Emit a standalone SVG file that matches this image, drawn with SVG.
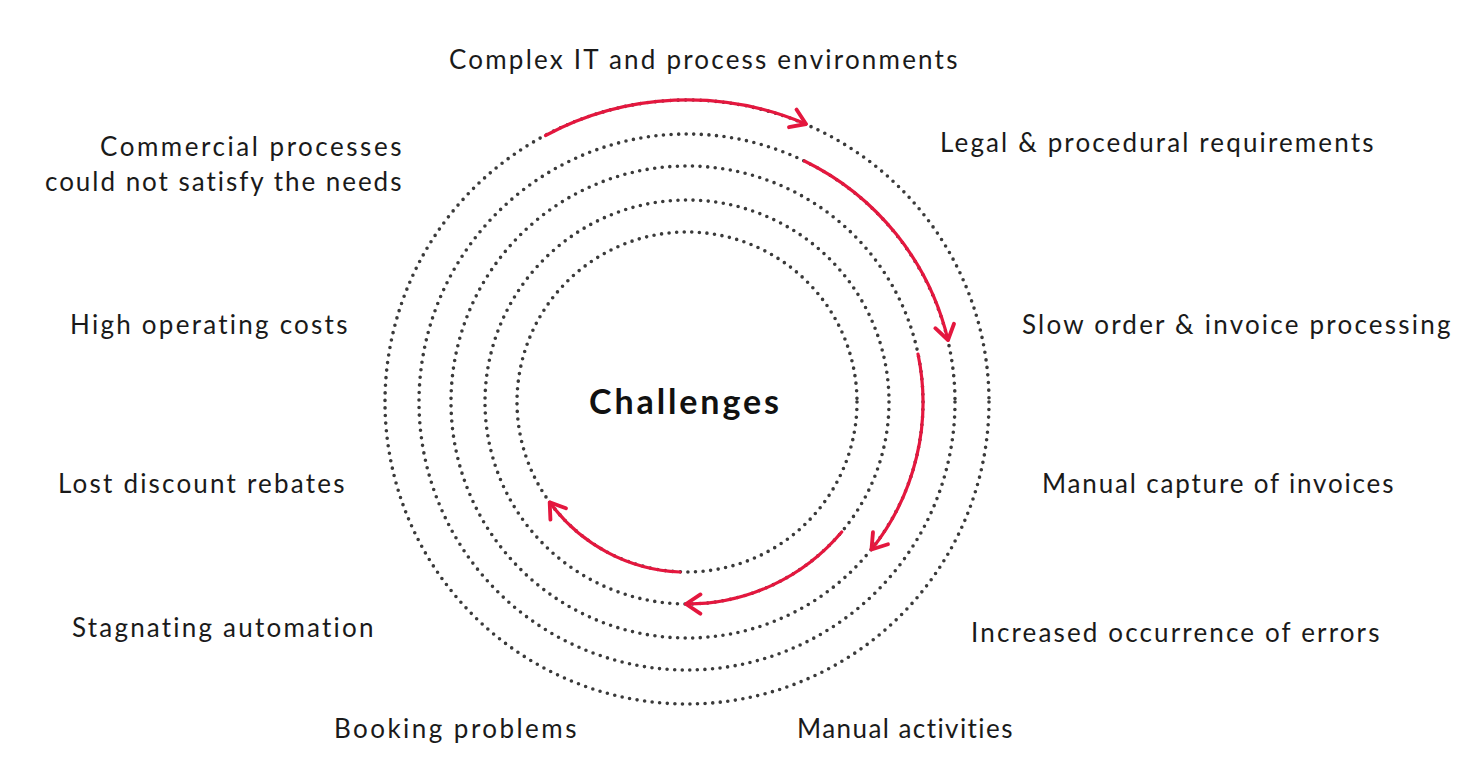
<svg xmlns="http://www.w3.org/2000/svg" width="1476" height="766" viewBox="0 0 1476 766">
<style>
.ring{fill:none;stroke:#3a3a3a;stroke-width:3.6;stroke-linecap:round;stroke-dasharray:0 7.6}
.arc{fill:none;stroke:#e4173e;stroke-width:3.2;stroke-linecap:round}
.lbl{font-family:Lato,"Open Sans","Liberation Sans",sans-serif;font-size:26px;fill:#1a1a1a;letter-spacing:0.6px}
.title{font-family:Lato,"Open Sans","Liberation Sans",sans-serif;font-size:34px;font-weight:bold;fill:#111}
</style>
<defs>
<marker id="ah" markerUnits="userSpaceOnUse" markerWidth="24" markerHeight="24" viewBox="-14 -10 16 20" refX="0" refY="0" orient="auto">
<path d="M-12,-8 L0,0 L-12,8" fill="none" stroke="#e4173e" stroke-width="3.2" stroke-linecap="round" stroke-linejoin="round"/>
</marker>
</defs>
<rect width="1476" height="766" fill="#fff"/>
<g id="rings">
<circle class="ring" cx="687" cy="402" r="302"/>
<circle class="ring" cx="687" cy="402" r="268"/>
<circle class="ring" cx="687" cy="402" r="236"/>
<circle class="ring" cx="687" cy="402" r="202"/>
<circle class="ring" cx="687" cy="402" r="170"/>
</g>
<g id="connectors">
<path class="arc" d="M545.5,135.5 A302,302 0 0 1 806,124" marker-end="url(#ah)"/>
<path class="arc" d="M804.5,161 A268,268 0 0 1 948,340" marker-end="url(#ah)"/>
<path class="arc" d="M918,354 A236,236 0 0 1 871.5,549.5" marker-end="url(#ah)"/>
<path class="arc" d="M841.7,532 A202,202 0 0 1 686,604" marker-end="url(#ah)"/>
<path class="arc" d="M680,572 A170,170 0 0 1 549.7,502.3" marker-end="url(#ah)"/>
</g>
<g id="center"><text class="title" x="589" y="414" textLength="190">Challenges</text></g>
<g id="n1"><text class="lbl" x="449" y="69" textLength="509">Complex IT and process environments</text></g>
<g id="n2"><text class="lbl" x="940" y="152" textLength="434">Legal &amp; procedural requirements</text></g>
<g id="n3"><text class="lbl" x="1022" y="334" textLength="429">Slow order &amp; invoice processing</text></g>
<g id="n4"><text class="lbl" x="1042" y="493" textLength="352">Manual capture of invoices</text></g>
<g id="n5"><text class="lbl" x="971" y="642" textLength="409">Increased occurrence of errors</text></g>
<g id="n6"><text class="lbl" x="797" y="738" textLength="216">Manual activities</text></g>
<g id="n7"><text class="lbl" x="334" y="738" textLength="243">Booking problems</text></g>
<g id="n8"><text class="lbl" x="72" y="637" textLength="302">Stagnating automation</text></g>
<g id="n9"><text class="lbl" x="58" y="493" textLength="287">Lost discount rebates</text></g>
<g id="n10"><text class="lbl" x="70" y="334" textLength="278">High operating costs</text></g>
<g id="n11"><text class="lbl" x="100" y="156" textLength="302">Commercial processes</text><text class="lbl" x="45" y="191" textLength="357">could not satisfy the needs</text></g>
</svg>
